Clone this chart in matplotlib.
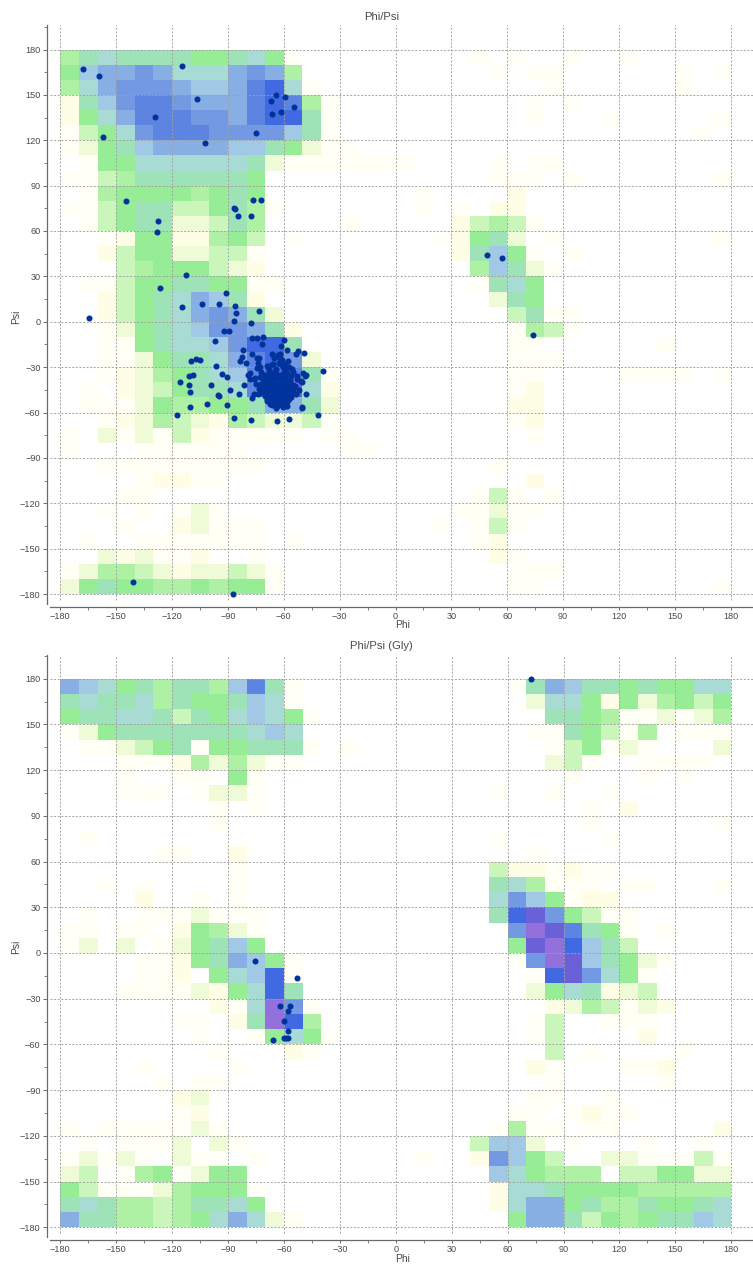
import matplotlib
matplotlib.use('Agg')
import matplotlib.pyplot as plt
import numpy as np
from matplotlib.colors import ListedColormap
from matplotlib.ticker import MultipleLocator

plt.rcParams['font.family'] = ['Liberation Sans', 'DejaVu Sans']

# density level per 10 degree cell, one hex digit per cell
# top row is psi 170..180, left column is phi -180..-170
general_rows = [
    '578777766786100000' '000010100100100000',
    '69aaba888aba500000' '000001011000000101',
    '58abbba99acd810000' '000000001000000100',
    '279bccbaaacdc51000' '000000010100000000',
    '268acccbbacdd71000' '000000010001000001',
    '1468bcccbbbb971000' '000000000000000010',
    '13679aaaa997631100' '000000000000000000',
    '016688888873111111' '100001011000000000',
    '114577777760000000' '000001110100000001',
    '015666656760000000' '010000200000000000',
    '114677446751000000' '010102200000000000',
    '014677334750000100' '000245410000000000',
    '001266225640100000' '001267301000000001',
    '002466334410000000' '000279610100000000',
    '000456664320000000' '000059731000000000',
    '011466776611000000' '000017860000000000',
    '0024678a9720000000' '000003760000000000',
    '0024678aba73000000' '000000471100000000',
    '00136789bba7200000' '000000154100000000',
    '001167889bdd700000' '000000110000001000',
    '001136778acdb30000' '000000111000000000',
    '0012356789cec71000' '000000110000111101',
    '0102346778cfe82000' '000000120000000000',
    '01113655667aa73000' '000000220000000000',
    '001235432543341000' '000000120000000000',
    '103131421111101100' '000000010000000000',
    '100011111100000110' '000000000000000000',
    '001111111110000000' '000001000000000000',
    '000012211000000000' '000000020000000000',
    '000110000000000000' '000014101000000000',
    '001010131000000000' '000113110000000000',
    '000100231110000000' '001014100000000000',
    '010011111110100000' '000012000000000000',
    '003231120010000000' '000002100000000000',
    '135543233431000000' '000000111000000000',
    '367665565661000000' '000000110000000001',
]

gly_rows = [
    'a986757759c7100000' '00000017a977676688',
    '787785766798100000' '000000038862635646',
    '677887476898610000' '000000007765113135',
    '136777777789800000' '000000011764150111',
    '011346716677710100' '000000001461310003',
    '000111253531100000' '000000003410011110',
    '000100110610000000' '000000000100010100',
    '000111013310000000' '000001001001000000',
    '000000001010000000' '000000000010200000',
    '000000001000000000' '000000000010000001',
    '010000000000000000' '000001000001000000',
    '000001100200000000' '000000010000000000',
    '000000000100000000' '000004221211000000',
    '001010000100000000' '000007851110110001',
    '000020010100000000' '000008b96122000000',
    '010011131110000000' '000007deb641100000',
    '110110265310000000' '000000bfec76101000',
    '130301367960000000' '0000006efd97400000',
    '000011267a96100000' '0000001bfe97631000',
    '00001120689d100000' '00000001deb8610000',
    '00011113268d700000' '000000036872340000',
    '00000000218fb10000' '000000002354132000',
    '00000011027fd50000' '000000014001110000',
    '000000010016861000' '000000014000020000',
    '000000001000210000' '000000004010000100',
    '000010000100000000' '000000021000112000',
    '000001011000000000' '000000001000001000',
    '000000230000000000' '000000011001000000',
    '000000120000000000' '000000110121100000',
    '101111131000000000' '000001511011000002',
    '010111303100000000' '000049930100010010',
    '131310311010000000' '01002b964003311141',
    '340156136600000000' '000009865550446633',
    '641113566610000000' '000002887666655555',
    '787554577860000000' '0000028aa675576678',
    'a77554568a83100000' '0000006aa746567798',
]

level_colors = ['#ffffff', '#fffff6', '#fefee6', '#eefbd6', '#cbf6bb', '#aef1a4',
                '#96ed96', '#9ee2b8', '#a8dbd4', '#a1c9e6', '#88afe4', '#7299e2',
                '#5d84e0', '#4169e1', '#6a60d8', '#9370db']

general_phi = [-168, -159.2, -114.5, -106.8, -129.3, -102.1, -157.3, -74.9, -66.8, -64, -59.5, -54.3,
               -66.5, -61.5, -144.5, -127.5, -128.1, -86.9, -86.2, -84.7, -77.8, -76.3, -72.4, -112.3,
               -126.5, -91.2, -114.6, -103.7, -94.6, -86, -85.8, -73.5, -164.6, -86.5, -77.8, -91.9,
               -89.2, -96.9, -76.9, -74.6, -71.3, -71.8, -60, -61.4, -58, -81.7, -77.2, -66.5, -62,
               -52.5, -53.4, -49, -82.6, -83.5, -73.5, -74.6, -109.8, -107.1, -104.8, -80.1, -96.6,
               -38.9, -108.6, -111.1, -115.7, -110.9, -93.3, -90.3, -99.2, -110.2, -88.7, -95.5,
               -94.8, -84.2, -81.3, -101.2, -110.4, -90.3, -117.3, -86.9, -77.8, -63.4, -57, -41.6,
               -50.2, -50, -47.9, -141, -87.3,
               -49.5, -48, -48.5, -50, -51, -53, -55.5, -57.5, -59.5, -62, -63, -61, -65, -57, -55, -53,
               -78, -79, -76, -78, -75, -72, -73, -76, -74, -70, -58.4, -67.6, -69.2, -77.2,
               -72, -70, -68, -66, -64, -62, -60, -58, -56, -71, -69, -67, -65, -63, -61, -59, -57, -55,
               -72, -70.5, -68, -66.5, -64.5, -62.5, -60.5, -58.5, -56, -71, -69, -67, -65, -63, -61, -59,
               -57, -70, -68, -66, -64, -62, -60, -58, -56, -68, -66, -64, -62, -60, -58, -65, -63, -61, -59,
               -73, -74, -69, -66, -62, -59, -54, -52, -64, -67,
               -72.5, -70.2, -68.4, -66.1, -64.3, -62.2, -60.1, -58.3, -56.4, -71.3, -69.2, -67.1, -65.4,
               -63.2, -61.4, -59.2, -57.3, -72.1, -70.4, -68.2, -66.3, -64.1, -62.4, -60.3, -58.2, -56.1,
               -71.2, -69.3, -67.4, -65.1, -63.4, -61.1, -59.4, -57.2, -70.3, -68.1, -66.4, -64.2, -62.1,
               -60.4, -58.1, -69.1, -67.3, -65.2, -63.1, -61.3, -59.1, -57.4, -66.2, -64.4, -62.3, -60.2,
               -58.4, -55.2, -54.1, -53.2, -74.2, -75.3, -73.1, -60.6, -62.6, -64.6, -66.6, -58.6, -56.6]
general_psi = [167, 162.8, 169.4, 147, 135.3, 118.3, 121.9, 124.9, 145.9, 149.8, 148.7, 142.3,
               137.3, 138.8, 79.6, 66.6, 59.1, 75.2, 74.7, 69.9, 69.9, 80.4, 80.2, 30.9,
               22.3, 19, 10, 11.7, 12, 10.4, 5.6, 6.9, 2.2, 0.4, -1.1, -5.9,
               -5.9, -12.8, -10.6, -11, -9.9, -14.8, -12.1, -16.1, -18.7, -18.5, -21.4, -21.4, -21,
               -19.6, -21, -20.7, -23.6, -25.8, -23.8, -24.2, -26, -24.9, -25.5, -27, -29,
               -32.8, -35.5, -36.1, -39.9, -41.6, -34.8, -36.6, -41.9, -46.7, -44.9, -48.2,
               -48.9, -47.6, -42.1, -54.4, -56.6, -55.1, -61.9, -63.7, -65.2, -65.4, -64.5, -61.9,
               -56.2, -57.3, -47.8, -172, -179.9,
               -34, -35.5, -36, -40, -39.5, -38, -31, -26, -28, -24, -22, -25, -24, -30, -33, -36,
               -34, -35, -38, -38, -41, -43, -47, -48, -48, -47, -55.7, -54.6, -51.3, -50.7,
               -33, -35, -32, -34, -31, -35, -33, -34, -36, -37, -38, -36, -38, -37, -38, -39, -41, -42,
               -41, -42, -41, -42, -41, -43, -41, -42, -45, -45, -46, -44, -45, -45, -46, -45,
               -47, -39, -40, -47, -49, -48, -49, -48, -50, -50, -51, -51, -52, -53, -52, -53, -55, -54, -56,
               -30, -27, -29, -28, -28, -30, -43, -45, -57, -42,
               -36.5, -37.2, -35.4, -36.3, -34.6, -37.1, -36.4, -35.2, -38.3, -39.2, -40.4, -41.1, -40.3,
               -41.2, -40.1, -41.4, -39.3, -44.2, -43.3, -44.4, -43.1, -44.3, -43.2, -44.1, -43.4, -44.6,
               -46.3, -47.2, -46.1, -47.4, -46.2, -47.1, -47.3, -46.4, -49.2, -50.3, -49.1, -50.4, -49.3,
               -50.1, -49.4, -52.3, -53.2, -53.4, -52.1, -53.3, -52.2, -51.4, -55.2, -56.1, -55.3, -56.3,
               -53.1, -46.2, -42.3, -47.6, -30.4, -37.3, -44.5, -30.2, -27.3, -32.4, -28.4, -33.2, -39.6]

gly_phi = [-75.8, -53.2, -62.2, -56.8, -58, -59.9, -57.9, -57.9, -59.1, -60, -66.1, 72.7]
gly_psi = [-5, -16.4, -34.6, -34.6, -38.2, -44.3, -51.1, -55.5, -55.9, -56.1, -56.8, 179.7]

# the points on the right of the general panel
right_phi = [48.9, 57.1, 74.1]
right_psi = [44.1, 41.9, -8.8]

W, H = 753, 1264
text_color = '#4a4a4a'
axis_color = '#6a6a6a'
grid_color = '#a0a0a0'
point_color = '#00339c'
cmap = ListedColormap(level_colors)


def panel(rows, phi, psi, title, x_m180, x_180, y_180, y_m180, top, axis_y, spine_end, title_y, label_y, psi_label_y):
    sx = (x_180 - x_m180) / 360.
    sy = (y_m180 - y_180) / 360.
    left, right = 47, W
    ax = fig.add_axes([left / W, 1 - axis_y / H, (right - left) / W, (axis_y - top) / H])
    ax.set_xlim(-180 - (x_m180 - left) / sx, 180 + (right - x_180) / sx)
    ax.set_ylim(-180 - (axis_y - y_m180) / sy, 180 + (y_180 - top) / sy)

    grid = np.array([[int(c, 16) for c in r] for r in rows])
    edges = np.arange(-180, 181, 10)
    ax.pcolormesh(edges, edges[::-1], grid, cmap=cmap, vmin=-0.5, vmax=15.5, zorder=1)

    ticks = np.arange(-180, 181, 30)
    y0, y1 = ax.get_ylim()
    x0, x1 = ax.get_xlim()
    for t in ticks:
        ax.plot([t, t], [y0 + (y1 - y0) * 0.012, y1], color=grid_color, lw=0.65, ls=(0, (2.2, 1.8)), zorder=2)
        ax.plot([x0 + 3 / sx, x1], [t, t], color=grid_color, lw=0.65, ls=(0, (2.2, 1.8)), zorder=2)
    ax.set_xlim(x0, x1)
    ax.set_ylim(y0, y1)

    ax.scatter(phi, psi, s=19, color=point_color, linewidths=0, zorder=3, clip_on=False)

    ax.set_xticks(ticks)
    ax.set_yticks(ticks)
    ax.xaxis.set_minor_locator(MultipleLocator(15))
    ax.yaxis.set_minor_locator(MultipleLocator(15))
    ax.tick_params(which='major', length=3, width=0.7, color=axis_color, labelcolor=text_color,
                   labelsize=6.6)
    ax.tick_params(which='minor', length=2, width=0.6, color=axis_color)
    ax.tick_params(axis='x', which='major', length=2.5, pad=0.8)
    ax.tick_params(axis='y', which='major', pad=1.6)
    for s in ['top', 'right']:
        ax.spines[s].set_visible(False)
    ax.spines['left'].set_color(axis_color)
    ax.spines['bottom'].set_color(axis_color)
    ax.spines['left'].set_linewidth(0.9)
    ax.spines['bottom'].set_linewidth(0.9)
    ax.spines['left'].set_bounds(y0 + (axis_y - spine_end) / sy, y1)
    ax.spines['bottom'].set_bounds(x0 + 3 / sx, x1)

    fig.text(381.5 / W, 1 - title_y / H, title, ha='center', va='center', fontsize=8.1, color=text_color)
    fig.text(402.5 / W, 1 - label_y / H, 'Phi', ha='center', va='center', fontsize=7.4, color=text_color)
    fig.text(16 / W, 1 - psi_label_y / H, 'Psi', ha='center', va='center', rotation=90, fontsize=7.4, color=text_color)


fig = plt.figure(figsize=(W / 100, H / 100), dpi=100)

panel(general_rows, general_phi + right_phi, general_psi + right_psi, 'Phi/Psi',
      60.3, 730.7, 49.5, 594, 25, 607, 604, 17, 625, 317)
panel(gly_rows, gly_phi, gly_psi, 'Phi/Psi (Gly)',
      60.3, 731.3, 678.7, 1227.3, 655, 1240, 1237, 646, 1259, 947)

fig.savefig('out.png', dpi=100)
